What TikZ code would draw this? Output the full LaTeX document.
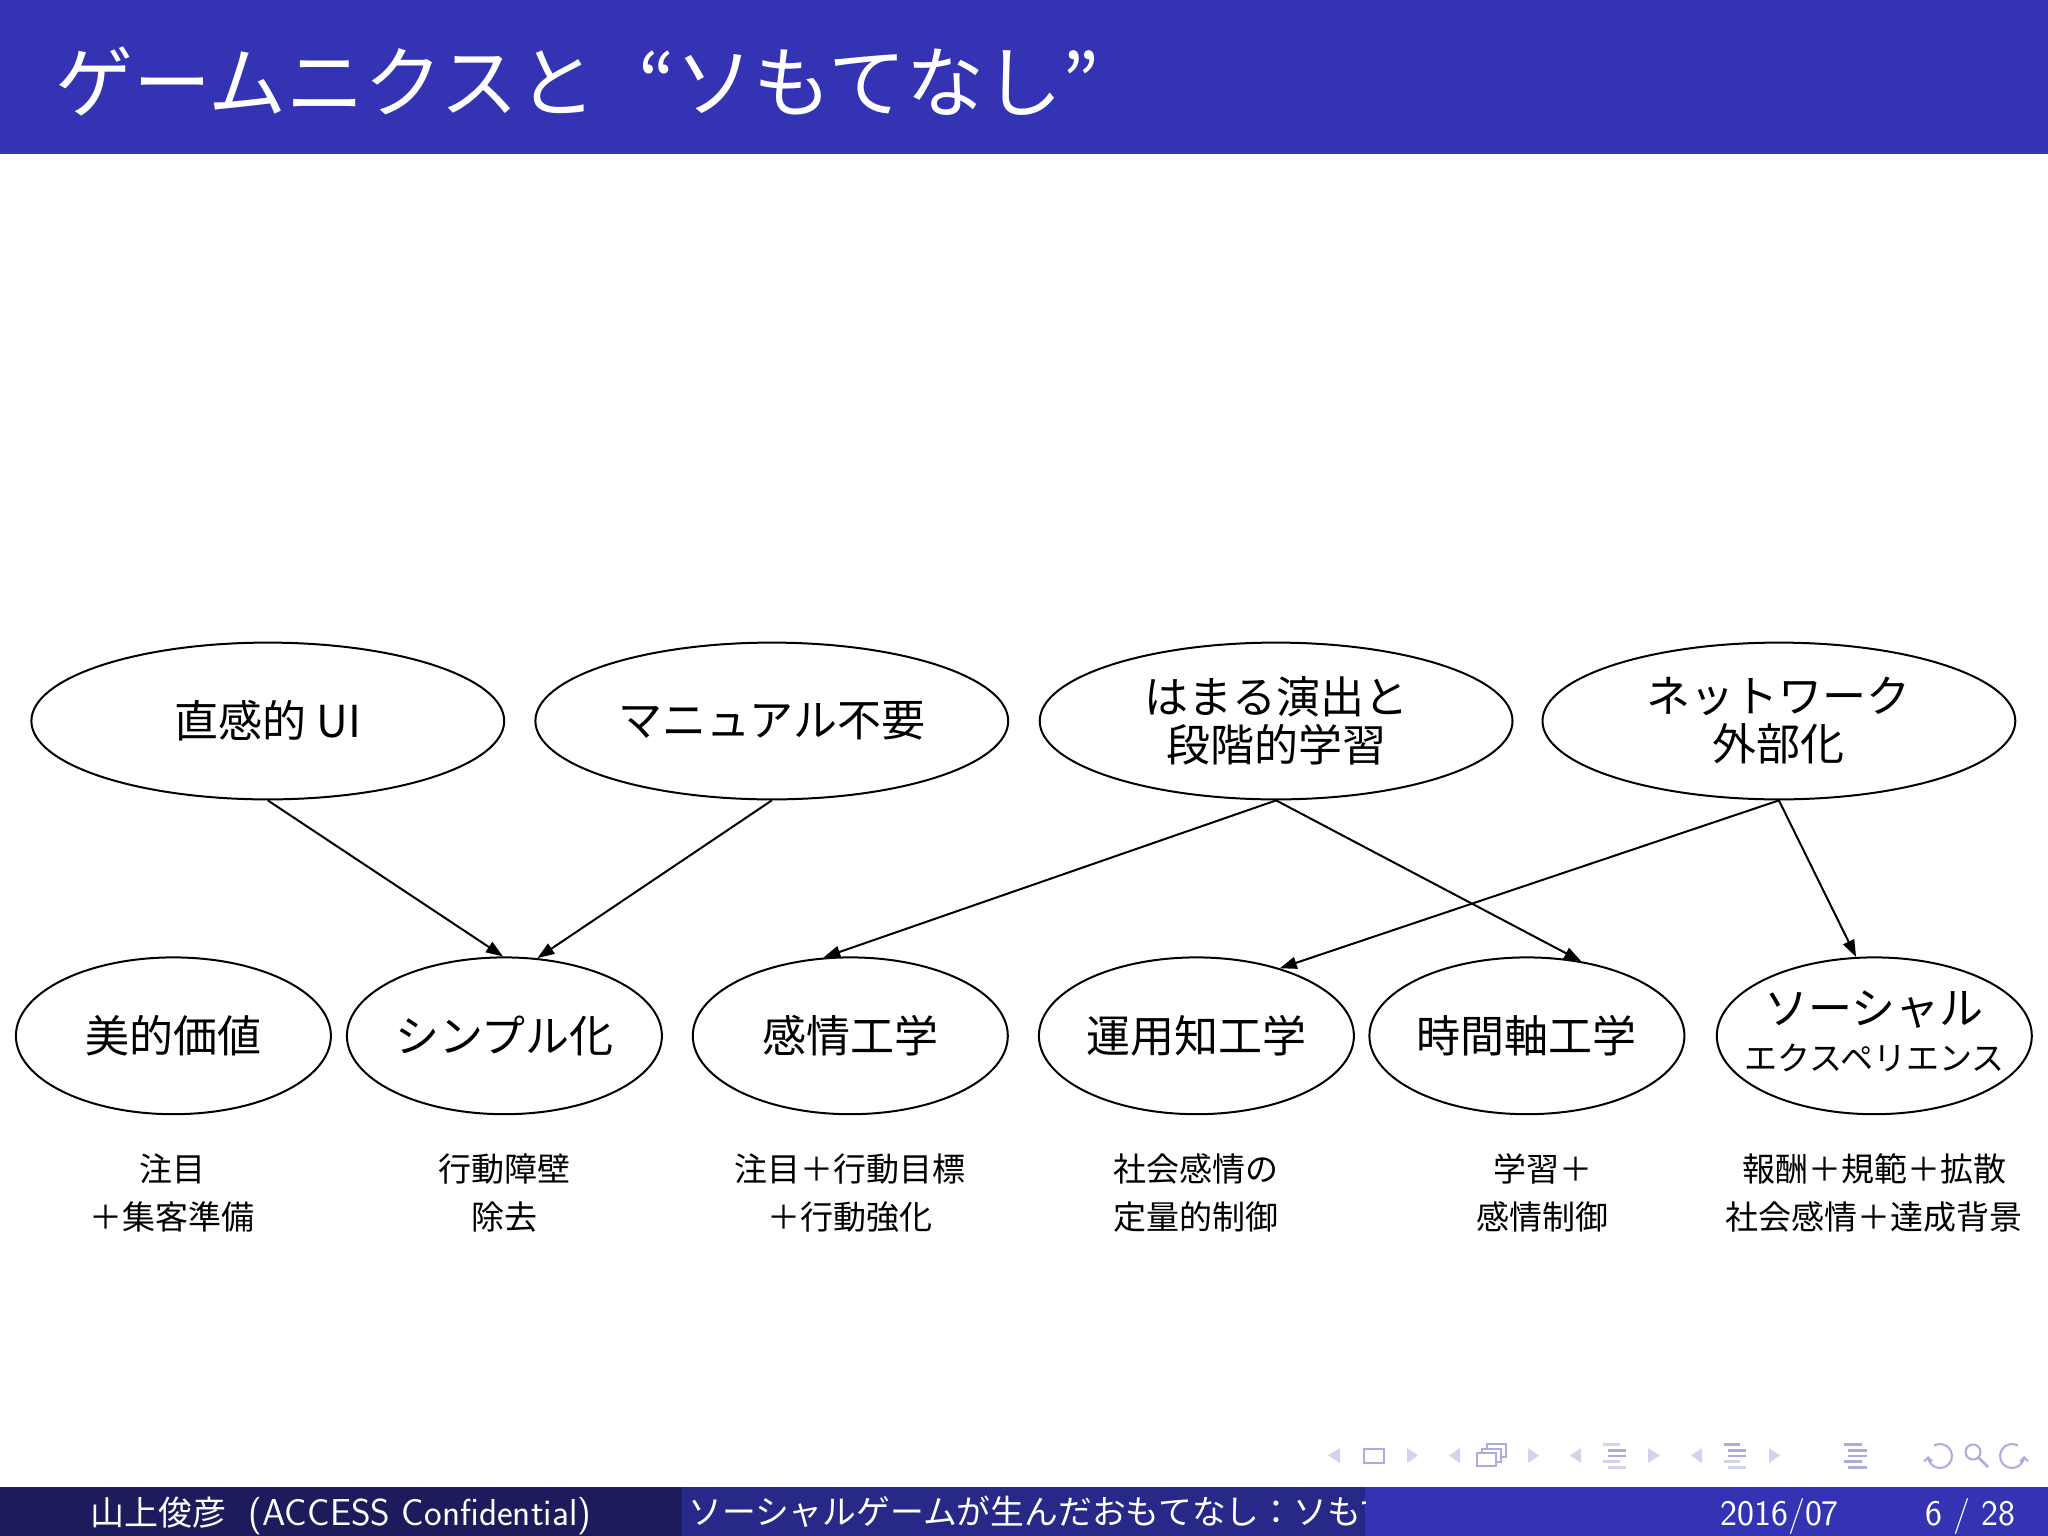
\documentclass[tikz,border=0pt]{standalone}
\usepackage{fontspec}
\newfontfamily\cjk{Noto Sans CJK JP}
\usetikzlibrary{arrows.meta,shapes.geometric}
\definecolor{barblue}{HTML}{3333B3}
\definecolor{footdark}{HTML}{1C1C5C}
\definecolor{footmid}{HTML}{282889}
\definecolor{navlight}{HTML}{D3D3EE}
\definecolor{navdark}{HTML}{ABABDC}
\begin{document}
\begin{tikzpicture}[x=1pt,y=-1pt,
  big/.style={draw,ellipse,line width=2pt,inner sep=0pt,minimum width=472.8pt,minimum height=156.8pt,font=\cjk\fontsize{44}{48}\selectfont,align=center},
  small/.style={big,minimum width=315pt},
  note/.style={font=\cjk\fontsize{33}{48}\selectfont,align=center,inner sep=0pt},
  link/.style={line width=2pt,-{Triangle[length=17pt,width=12pt]}},
  navtri/.style={fill=navlight},
  navline/.style={line width=2.6pt},
  foot/.style={text=white,inner sep=0pt,anchor=base}
 ]
\useasboundingbox (0,0) rectangle (2048,1536);
\fill[white] (0,0) rectangle (2048,1536);
% title bar
\fill[barblue] (0,0) rectangle (2048,154);
\node[anchor=west,text=white,font=\cjk\fontsize{78}{80}\selectfont,inner sep=0pt] (title) at (55,81) {ゲームニクスと\hspace{42pt}“ソもてなし”\hspace{0pt}};

% top ellipses
\node[big] (ui) at (267.8,721) {直感的 UI};
\node[big] (man) at (771.8,721) {マニュアル不要};
\node[big] (hama) at (1276.1,721) {はまる演出と\\段階的学習};
\node[big] (net) at (1778.9,721) {ネットワーク\\外部化};
% bottom ellipses
\node[small] (bi) at (173.4,1035.8) {美的価値};
\node[small] (simp) at (504.4,1035.8) {シンプル化};
\node[small] (kan) at (850.3,1035.8) {感情工学};
\node[small] (unyo) at (1196.4,1035.8) {運用知工学};
\node[small] (jikan) at (1526.9,1035.8) {時間軸工学};
\node[small] (soc) at (1874.3,1035.8) {};
\node[font=\cjk\fontsize{44}{48}\selectfont,inner sep=0pt] (soc1) at (1874.3,1009.6) {ソーシャル};
\node[font=\cjk\fontsize{33}{40}\selectfont,inner sep=0pt] (soc2) at (1874.3,1058) {エクスペリエンス};

% notes
\node[note] (n1) at (172.4,1193) {注目\\＋集客準備};
\node[note] (n2) at (504,1193) {行動障壁\\除去};
\node[note] (n3) at (850,1193) {注目＋行動目標\\＋行動強化};
\node[note] (n4) at (1196,1193) {社会感情の\\定量的制御};
\node[note] (n5) at (1542.5,1193) {学習＋\\感情制御};
\node[note] (n6) at (1874,1193) {報酬＋規範＋拡散\\社会感情＋達成背景};

% arrows
\draw[link] (ui.south) -- (simp.91);
\draw[link] (man.south) -- (simp.67);
\draw[link] (hama.south) -- (kan.109);
\draw[link] (hama.south) -- (jikan.54);
\draw[link] (net.south) -- (unyo.39);
\draw[link] (net.south) -- (soc.103);

% navigation symbols
\fill[navtri] (1328,1455.5) -- (1340,1448) -- (1340,1463) -- cycle;
\draw[navdark,line width=2pt] (1364,1449) rectangle (1384,1463);
\fill[navtri] (1418,1455.5) -- (1407,1448) -- (1407,1463) -- cycle;
\fill[navtri] (1449,1455.5) -- (1460,1448) -- (1460,1463) -- cycle;
\draw[navdark,line width=2pt,fill=white] (1487,1444) rectangle (1506,1457);
\draw[navdark,line width=2pt,fill=white] (1482,1448.5) rectangle (1501,1461.5);
\draw[navdark,line width=2pt,fill=white] (1477,1453) rectangle (1496,1466);
\fill[navtri] (1539,1455.5) -- (1528,1448) -- (1528,1463) -- cycle;
\fill[navtri] (1570,1455.5) -- (1581,1448) -- (1581,1463) -- cycle;
\draw[navline,navlight] (1603,1444.5) -- (1620,1444.5);
\draw[navline,navdark] (1608,1450.5) -- (1626,1450.5);
\draw[navline,navdark] (1608,1456) -- (1626,1456);
\draw[navline,navlight] (1603,1461.5) -- (1620,1461.5);
\draw[navline,navlight] (1608,1467.5) -- (1626,1467.5);
\fill[navtri] (1660,1455.5) -- (1648,1448) -- (1648,1463) -- cycle;
\fill[navtri] (1691,1455.5) -- (1702,1448) -- (1702,1463) -- cycle;
\draw[navline,navdark] (1724,1444.5) -- (1740,1444.5);
\draw[navline,navdark] (1728,1450.5) -- (1746,1450.5);
\draw[navline,navdark] (1728,1456) -- (1746,1456);
\draw[navline,navlight] (1724,1461.5) -- (1740,1461.5);
\draw[navline,navlight] (1728,1467.5) -- (1746,1467.5);
\fill[navtri] (1780,1455.5) -- (1769,1448) -- (1769,1463) -- cycle;
\draw[navline,navdark] (1844,1444.5) -- (1862,1444.5);
\draw[navline,navdark] (1848,1450.5) -- (1867,1450.5);
\draw[navline,navdark] (1848,1456) -- (1867,1456);
\draw[navline,navdark] (1844,1461.5) -- (1862,1461.5);
\draw[navline,navdark] (1848,1467.5) -- (1867,1467.5);
\draw[navdark,line width=2pt,-{Straight Barb[length=4pt,width=8pt]}] ([shift={(-120:12)}]1940,1456) arc[start angle=-120,end angle=180,radius=12];
\draw[navdark,line width=2pt] (1973,1452) circle[radius=7.5];
\draw[navdark,line width=2.6pt] (1978.5,1457.5) -- (1988,1467);
\draw[navdark,line width=2pt,-{Straight Barb[length=4pt,width=8pt]}] ([shift={(-60:12)}]2012,1456) arc[start angle=-60,end angle=-360,radius=12];

% footer
\fill[footdark] (0,1487) rectangle (681.7,1536);
\fill[footmid] (681.7,1487) rectangle (1365,1536);
\fill[barblue] (1365,1487) rectangle (2048,1536);
\node[foot,font=\fontsize{37.5}{40}\selectfont] (auth) at (341,1525) {{\cjk\fontsize{34}{38}\selectfont 山上俊彦}\hspace{22pt}{\sffamily (ACCESS Confidential)}};
\begin{scope}
\clip (681.7,1487) rectangle (1365,1536);
\node[foot,anchor=base west,font=\cjk\fontsize{33.8}{38}\selectfont] (ftitle) at (688,1524) {ソーシャルゲームが生んだおもてなし：ソもてなし};
\end{scope}
\node[foot,font=\sffamily\fontsize{36}{38}\selectfont] (date) at (1779.6,1525) {2016/07};
\node[foot,font=\sffamily\fontsize{36}{38}\selectfont] (page) at (1970.3,1525) {6 / 28};
\end{tikzpicture}
\end{document}
